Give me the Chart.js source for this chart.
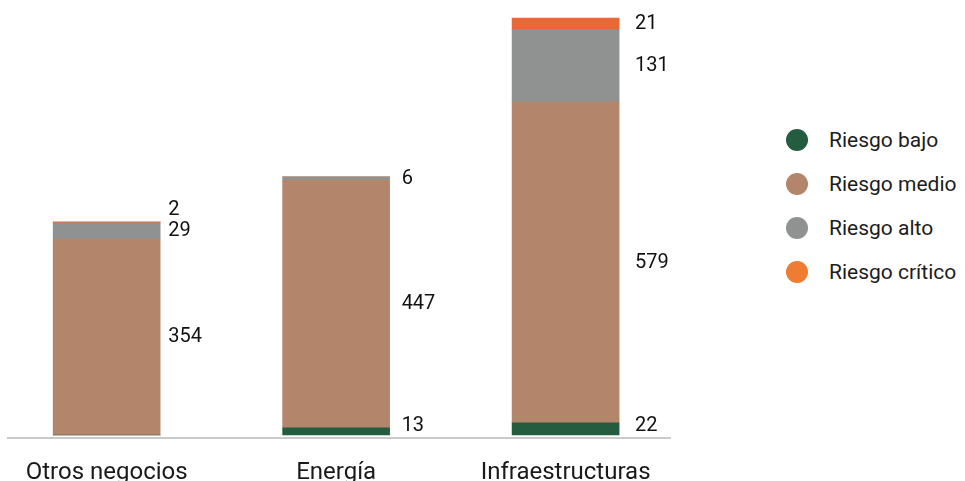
<!DOCTYPE html>
<html lang="es">
<head>
<meta charset="utf-8">
<title>Riesgo por negocio</title>
<script src="https://cdn.jsdelivr.net/npm/chart.js@4"></script>
<style>
  html, body { margin: 0; padding: 0; background: #fff; overflow: hidden; }
  body { width: 965px; height: 481px; position: relative; font-family: Roboto, sans-serif; }
  #wrap { position: absolute; left: 0; top: 0; width: 700px; height: 481px; }
  #legend { position: absolute; left: 786px; top: 118px; margin: 0; padding: 0; list-style: none; }
  #legend li { display: flex; align-items: center; height: 44px; font-size: 21px; color: #1c1c1c; }
  #legend .dot { width: 22px; height: 22px; border-radius: 50%; margin-right: 21px; }
</style>
</head>
<body>
<div id="wrap"><canvas id="chart-risk"></canvas></div>
<ul id="legend"></ul>
<script>
// ─── Data ─────────────────────────────────────────────────────────────────────

const categories = ['Otros negocios', 'Energía', 'Infraestructuras'];
const seriesNames = ['Riesgo bajo', 'Riesgo medio', 'Riesgo alto', 'Riesgo crítico'];

const bajo    = [0, 13, 22];
const medio   = [354, 447, 579];
const alto    = [29, 6, 131];
const critico = [2, 0, 21];

// ─── Styles ───────────────────────────────────────────────────────────────────

const barColors    = ['#245c40', '#b3866b', '#8f9290', '#ea6737'];
const legendColors = ['#245c40', '#b3866b', '#8f9290', '#ee7d33'];
const FONT = 'Roboto, sans-serif';

// value labels to the right of each segment, pushed apart when they crowd
const segmentLabels = {
  id: 'segmentLabels',
  afterDatasetsDraw(chart) {
    const { ctx } = chart;
    const baseline = chart.scales.y.getPixelForValue(0);
    ctx.save();
    ctx.font = `20px ${FONT}`;
    ctx.fillStyle = '#111';
    ctx.textBaseline = 'middle';
    ctx.textAlign = 'left';
    categories.forEach((_, i) => {
      let prevY = null;
      chart.data.datasets.forEach((ds, d) => {
        const v = ds.data[i].y;
        if (!v) return;
        const bar = chart.getDatasetMeta(d).data[i];
        let y = Math.min((bar.y + bar.base) / 2, baseline - 9);
        if (prevY !== null && prevY - y < 21) y = prevY - 21;
        prevY = y;
        ctx.fillText(String(v), bar.x + bar.width / 2 + 8 + i * 4, y);
      });
    });
    ctx.restore();
  },
};

function buildLegend() {
  const ul = document.getElementById('legend');
  seriesNames.forEach((name, i) => {
    const li = document.createElement('li');
    const dot = document.createElement('span');
    dot.className = 'dot';
    dot.style.background = legendColors[i];
    li.appendChild(dot);
    li.appendChild(document.createTextNode(name));
    ul.appendChild(li);
  });
}

function renderChart() {
  const canvas = document.getElementById('chart-risk');
  const series = [bajo, medio, alto, critico];

  new Chart(canvas, {
    type: 'bar',
    data: {
      datasets: series.map((values, s) => ({
        label: seriesNames[s],
        data: values.map((v, i) => ({ x: i, y: v })),
        backgroundColor: barColors[s],
        borderWidth: 0,
        barThickness: 107,
      })),
    },
    options: {
      responsive: true,
      maintainAspectRatio: false,
      animation: false,
      layout: { padding: { left: 8, right: 30, top: 0, bottom: 0 } },
      plugins: { legend: { display: false }, tooltip: { enabled: false } },
      scales: {
        x: {
          type: 'linear',
          stacked: true,
          offset: false,
          min: -0.43,
          max: 2.455,
          afterBuildTicks: (scale) => { scale.ticks = categories.map((_, i) => ({ value: i })); },
          afterFit: (scale) => { scale.height = 43.5; },
          grid: { display: false, drawTicks: false, offset: false },
          border: { display: true, color: '#cacaca', width: 2 },
          ticks: {
            autoSkip: false,
            maxRotation: 0,
            padding: 21,
            color: '#1a1a1a',
            font: { family: FONT, size: 24 },
            callback: (v) => categories[v] ?? '',
          },
        },
        y: {
          stacked: true,
          display: false,
          min: -4.5,
          max: 785.5,
        },
      },
    },
    plugins: [segmentLabels],
  });
}

buildLegend();
renderChart();
</script>
</body>
</html>
